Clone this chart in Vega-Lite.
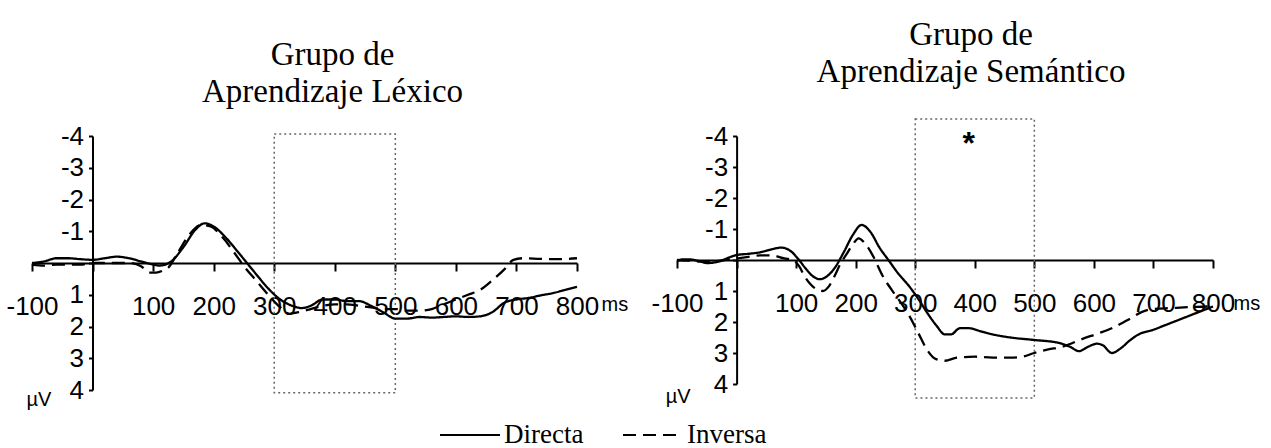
{
  "$schema": "https://vega.github.io/schema/vega-lite/v6.json",
  "padding": {"left": 5, "top": 19, "right": 0, "bottom": 0},
  "background": "white",
  "spacing": 100,
  "bounds": "flush",
  "config": {"view": {"stroke": null}},
  "datasets": {
    "left": [
      {"ms": -100, "uV": 0.0, "series": "Directa"}, {"ms": -80, "uV": -0.05, "series": "Directa"}, {"ms": -60, "uV": -0.15, "series": "Directa"}, {"ms": -40, "uV": -0.15, "series": "Directa"}, {"ms": -20, "uV": -0.12, "series": "Directa"}, {"ms": 0, "uV": -0.1, "series": "Directa"}, {"ms": 20, "uV": -0.15, "series": "Directa"}, {"ms": 40, "uV": -0.2, "series": "Directa"}, {"ms": 60, "uV": -0.15, "series": "Directa"}, {"ms": 80, "uV": -0.05, "series": "Directa"}, {"ms": 100, "uV": 0.05, "series": "Directa"}, {"ms": 110, "uV": 0.08, "series": "Directa"}, {"ms": 120, "uV": 0.05, "series": "Directa"}, {"ms": 130, "uV": -0.05, "series": "Directa"}, {"ms": 150, "uV": -0.5, "series": "Directa"}, {"ms": 170, "uV": -1.05, "series": "Directa"}, {"ms": 185, "uV": -1.25, "series": "Directa"}, {"ms": 200, "uV": -1.15, "series": "Directa"}, {"ms": 220, "uV": -0.8, "series": "Directa"}, {"ms": 240, "uV": -0.35, "series": "Directa"}, {"ms": 255, "uV": 0.0, "series": "Directa"}, {"ms": 270, "uV": 0.35, "series": "Directa"}, {"ms": 290, "uV": 0.8, "series": "Directa"}, {"ms": 310, "uV": 1.15, "series": "Directa"}, {"ms": 330, "uV": 1.35, "series": "Directa"}, {"ms": 345, "uV": 1.42, "series": "Directa"}, {"ms": 360, "uV": 1.35, "series": "Directa"}, {"ms": 380, "uV": 1.15, "series": "Directa"}, {"ms": 400, "uV": 1.15, "series": "Directa"}, {"ms": 420, "uV": 1.2, "series": "Directa"}, {"ms": 440, "uV": 1.2, "series": "Directa"}, {"ms": 460, "uV": 1.35, "series": "Directa"}, {"ms": 480, "uV": 1.55, "series": "Directa"}, {"ms": 500, "uV": 1.75, "series": "Directa"}, {"ms": 520, "uV": 1.75, "series": "Directa"}, {"ms": 540, "uV": 1.7, "series": "Directa"}, {"ms": 560, "uV": 1.72, "series": "Directa"}, {"ms": 580, "uV": 1.7, "series": "Directa"}, {"ms": 600, "uV": 1.68, "series": "Directa"}, {"ms": 620, "uV": 1.7, "series": "Directa"}, {"ms": 640, "uV": 1.68, "series": "Directa"}, {"ms": 660, "uV": 1.55, "series": "Directa"}, {"ms": 680, "uV": 1.25, "series": "Directa"}, {"ms": 700, "uV": 1.15, "series": "Directa"}, {"ms": 720, "uV": 1.1, "series": "Directa"}, {"ms": 740, "uV": 1.02, "series": "Directa"}, {"ms": 760, "uV": 0.95, "series": "Directa"}, {"ms": 780, "uV": 0.85, "series": "Directa"}, {"ms": 800, "uV": 0.75, "series": "Directa"},
      {"ms": -100, "uV": 0.05, "series": "Inversa"}, {"ms": -80, "uV": 0.08, "series": "Inversa"}, {"ms": -60, "uV": 0.05, "series": "Inversa"}, {"ms": -40, "uV": 0.05, "series": "Inversa"}, {"ms": -20, "uV": 0.05, "series": "Inversa"}, {"ms": 0, "uV": 0.0, "series": "Inversa"}, {"ms": 20, "uV": 0.0, "series": "Inversa"}, {"ms": 40, "uV": 0.0, "series": "Inversa"}, {"ms": 60, "uV": 0.0, "series": "Inversa"}, {"ms": 80, "uV": 0.1, "series": "Inversa"}, {"ms": 95, "uV": 0.3, "series": "Inversa"}, {"ms": 105, "uV": 0.3, "series": "Inversa"}, {"ms": 115, "uV": 0.25, "series": "Inversa"}, {"ms": 125, "uV": 0.15, "series": "Inversa"}, {"ms": 140, "uV": -0.3, "series": "Inversa"}, {"ms": 160, "uV": -0.9, "series": "Inversa"}, {"ms": 180, "uV": -1.2, "series": "Inversa"}, {"ms": 195, "uV": -1.15, "series": "Inversa"}, {"ms": 215, "uV": -0.8, "series": "Inversa"}, {"ms": 235, "uV": -0.3, "series": "Inversa"}, {"ms": 250, "uV": 0.1, "series": "Inversa"}, {"ms": 270, "uV": 0.55, "series": "Inversa"}, {"ms": 290, "uV": 1.0, "series": "Inversa"}, {"ms": 310, "uV": 1.4, "series": "Inversa"}, {"ms": 325, "uV": 1.6, "series": "Inversa"}, {"ms": 340, "uV": 1.55, "series": "Inversa"}, {"ms": 360, "uV": 1.45, "series": "Inversa"}, {"ms": 380, "uV": 1.35, "series": "Inversa"}, {"ms": 400, "uV": 1.3, "series": "Inversa"}, {"ms": 420, "uV": 1.3, "series": "Inversa"}, {"ms": 440, "uV": 1.35, "series": "Inversa"}, {"ms": 460, "uV": 1.4, "series": "Inversa"}, {"ms": 480, "uV": 1.45, "series": "Inversa"}, {"ms": 500, "uV": 1.45, "series": "Inversa"}, {"ms": 520, "uV": 1.5, "series": "Inversa"}, {"ms": 540, "uV": 1.5, "series": "Inversa"}, {"ms": 560, "uV": 1.45, "series": "Inversa"}, {"ms": 580, "uV": 1.3, "series": "Inversa"}, {"ms": 600, "uV": 1.15, "series": "Inversa"}, {"ms": 620, "uV": 1.0, "series": "Inversa"}, {"ms": 640, "uV": 0.85, "series": "Inversa"}, {"ms": 660, "uV": 0.55, "series": "Inversa"}, {"ms": 680, "uV": 0.2, "series": "Inversa"}, {"ms": 695, "uV": -0.1, "series": "Inversa"}, {"ms": 710, "uV": -0.15, "series": "Inversa"}, {"ms": 740, "uV": -0.13, "series": "Inversa"}, {"ms": 770, "uV": -0.12, "series": "Inversa"}, {"ms": 800, "uV": -0.15, "series": "Inversa"}
    ],
    "right": [
      {"ms": -100, "uV": 0.03, "series": "Directa"}, {"ms": -90, "uV": -0.02, "series": "Directa"}, {"ms": -80, "uV": -0.02, "series": "Directa"}, {"ms": -60, "uV": 0.05, "series": "Directa"}, {"ms": -50, "uV": 0.1, "series": "Directa"}, {"ms": -30, "uV": 0.05, "series": "Directa"}, {"ms": -10, "uV": -0.1, "series": "Directa"}, {"ms": 0, "uV": -0.16, "series": "Directa"}, {"ms": 20, "uV": -0.2, "series": "Directa"}, {"ms": 40, "uV": -0.25, "series": "Directa"}, {"ms": 60, "uV": -0.35, "series": "Directa"}, {"ms": 75, "uV": -0.4, "series": "Directa"}, {"ms": 90, "uV": -0.3, "series": "Directa"}, {"ms": 105, "uV": 0.0, "series": "Directa"}, {"ms": 115, "uV": 0.25, "series": "Directa"}, {"ms": 130, "uV": 0.55, "series": "Directa"}, {"ms": 140, "uV": 0.62, "series": "Directa"}, {"ms": 150, "uV": 0.55, "series": "Directa"}, {"ms": 165, "uV": 0.25, "series": "Directa"}, {"ms": 180, "uV": -0.25, "series": "Directa"}, {"ms": 195, "uV": -0.8, "series": "Directa"}, {"ms": 210, "uV": -1.13, "series": "Directa"}, {"ms": 225, "uV": -0.9, "series": "Directa"}, {"ms": 240, "uV": -0.4, "series": "Directa"}, {"ms": 255, "uV": 0.0, "series": "Directa"}, {"ms": 270, "uV": 0.4, "series": "Directa"}, {"ms": 290, "uV": 0.85, "series": "Directa"}, {"ms": 305, "uV": 1.25, "series": "Directa"}, {"ms": 320, "uV": 1.7, "series": "Directa"}, {"ms": 335, "uV": 2.1, "series": "Directa"}, {"ms": 350, "uV": 2.4, "series": "Directa"}, {"ms": 360, "uV": 2.4, "series": "Directa"}, {"ms": 375, "uV": 2.2, "series": "Directa"}, {"ms": 390, "uV": 2.2, "series": "Directa"}, {"ms": 410, "uV": 2.3, "series": "Directa"}, {"ms": 430, "uV": 2.4, "series": "Directa"}, {"ms": 460, "uV": 2.5, "series": "Directa"}, {"ms": 500, "uV": 2.58, "series": "Directa"}, {"ms": 540, "uV": 2.67, "series": "Directa"}, {"ms": 560, "uV": 2.8, "series": "Directa"}, {"ms": 575, "uV": 2.94, "series": "Directa"}, {"ms": 590, "uV": 2.8, "series": "Directa"}, {"ms": 605, "uV": 2.7, "series": "Directa"}, {"ms": 615, "uV": 2.75, "series": "Directa"}, {"ms": 630, "uV": 3.0, "series": "Directa"}, {"ms": 645, "uV": 2.85, "series": "Directa"}, {"ms": 660, "uV": 2.6, "series": "Directa"}, {"ms": 675, "uV": 2.4, "series": "Directa"}, {"ms": 700, "uV": 2.25, "series": "Directa"}, {"ms": 720, "uV": 2.1, "series": "Directa"}, {"ms": 740, "uV": 1.95, "series": "Directa"}, {"ms": 760, "uV": 1.8, "series": "Directa"}, {"ms": 780, "uV": 1.65, "series": "Directa"}, {"ms": 800, "uV": 1.5, "series": "Directa"},
      {"ms": -100, "uV": 0.0, "series": "Inversa"}, {"ms": -80, "uV": 0.02, "series": "Inversa"}, {"ms": -60, "uV": 0.05, "series": "Inversa"}, {"ms": -40, "uV": 0.05, "series": "Inversa"}, {"ms": -20, "uV": 0.0, "series": "Inversa"}, {"ms": 0, "uV": -0.05, "series": "Inversa"}, {"ms": 20, "uV": -0.1, "series": "Inversa"}, {"ms": 40, "uV": -0.15, "series": "Inversa"}, {"ms": 60, "uV": -0.15, "series": "Inversa"}, {"ms": 80, "uV": -0.05, "series": "Inversa"}, {"ms": 95, "uV": 0.0, "series": "Inversa"}, {"ms": 105, "uV": 0.2, "series": "Inversa"}, {"ms": 115, "uV": 0.55, "series": "Inversa"}, {"ms": 125, "uV": 0.8, "series": "Inversa"}, {"ms": 135, "uV": 0.95, "series": "Inversa"}, {"ms": 145, "uV": 1.0, "series": "Inversa"}, {"ms": 155, "uV": 0.85, "series": "Inversa"}, {"ms": 165, "uV": 0.5, "series": "Inversa"}, {"ms": 175, "uV": 0.1, "series": "Inversa"}, {"ms": 185, "uV": -0.2, "series": "Inversa"}, {"ms": 195, "uV": -0.5, "series": "Inversa"}, {"ms": 205, "uV": -0.7, "series": "Inversa"}, {"ms": 215, "uV": -0.55, "series": "Inversa"}, {"ms": 230, "uV": -0.1, "series": "Inversa"}, {"ms": 245, "uV": 0.5, "series": "Inversa"}, {"ms": 260, "uV": 0.95, "series": "Inversa"}, {"ms": 275, "uV": 1.35, "series": "Inversa"}, {"ms": 290, "uV": 1.8, "series": "Inversa"}, {"ms": 305, "uV": 2.35, "series": "Inversa"}, {"ms": 320, "uV": 2.9, "series": "Inversa"}, {"ms": 335, "uV": 3.2, "series": "Inversa"}, {"ms": 350, "uV": 3.25, "series": "Inversa"}, {"ms": 370, "uV": 3.15, "series": "Inversa"}, {"ms": 400, "uV": 3.12, "series": "Inversa"}, {"ms": 430, "uV": 3.15, "series": "Inversa"}, {"ms": 460, "uV": 3.15, "series": "Inversa"}, {"ms": 480, "uV": 3.12, "series": "Inversa"}, {"ms": 500, "uV": 3.0, "series": "Inversa"}, {"ms": 520, "uV": 2.9, "series": "Inversa"}, {"ms": 550, "uV": 2.78, "series": "Inversa"}, {"ms": 580, "uV": 2.55, "series": "Inversa"}, {"ms": 610, "uV": 2.35, "series": "Inversa"}, {"ms": 630, "uV": 2.2, "series": "Inversa"}, {"ms": 660, "uV": 1.9, "series": "Inversa"}, {"ms": 680, "uV": 1.68, "series": "Inversa"}, {"ms": 700, "uV": 1.58, "series": "Inversa"}, {"ms": 730, "uV": 1.55, "series": "Inversa"}, {"ms": 760, "uV": 1.52, "series": "Inversa"}, {"ms": 790, "uV": 1.5, "series": "Inversa"}, {"ms": 800, "uV": 1.45, "series": "Inversa"}
    ],
    "winL": [{"ms": 300, "ms2": 500, "uV": -4.06, "uV2": 4.09}],
    "winR": [{"ms": 300, "ms2": 500, "uV": -4.55, "uV2": 4.45}],
    "star": [{"ms": 390, "uV": -4.0, "label": "*"}]
  },
  "hconcat": [
    {
      "width": 545,
      "height": 254,
      "title": {"text": ["Grupo de", "Aprendizaje Léxico"], "font": "Liberation Serif", "fontSize": 33, "fontWeight": "normal", "lineHeight": 37, "color": "black", "anchor": "middle", "dx": 28, "offset": 14},
      "encoding": {
        "x": {"field": "ms", "type": "quantitative", "scale": {"domain": [-100, 800], "nice": false, "zero": false},
          "axis": {"values": [-100, 0, 100, 200, 300, 400, 500, 600, 700, 800], "labelExpr": "datum.value == 0 ? '' : '' + datum.value", "offset": -127, "grid": false, "domainColor": "black", "domainWidth": 2, "tickColor": "black", "tickWidth": 2, "tickSize": 8, "labelFont": "Liberation Sans", "labelFontSize": 26, "labelColor": "black", "labelPadding": 22, "labelFlush": false, "labelOverlap": false, "labelBound": false, "title": "ms", "titleFont": "Liberation Sans", "titleFontSize": 20, "titleFontWeight": "normal", "titleColor": "black", "titleX": 569, "titleY": 41, "titleAlign": "left", "titleBaseline": "middle", "titleAngle": 0}},
        "y": {"field": "uV", "type": "quantitative", "scale": {"domain": [-4, 4], "reverse": true, "nice": false, "zero": false},
          "axis": {"values": [-4, -3, -2, -1, 0, 1, 2, 3, 4], "labelExpr": "datum.value == 0 ? '' : '' + datum.value", "offset": -60.5, "grid": false, "domainColor": "black", "domainWidth": 2, "tickColor": "black", "tickWidth": 2, "tickSize": 4, "labelFont": "Liberation Sans", "labelFontSize": 26, "labelColor": "black", "labelPadding": 5, "labelFlush": false, "labelOverlap": false, "labelBound": false, "title": "µV", "titleFont": "Liberation Sans", "titleFontSize": 20, "titleFontWeight": "normal", "titleColor": "black", "titleAngle": 0, "titleX": -54, "titleY": 263, "titleAlign": "center", "titleBaseline": "middle"}}
      },
      "layer": [
        {"data": {"name": "winL"}, "mark": {"type": "rect", "filled": false, "stroke": "#666666", "strokeWidth": 1.5, "strokeDash": [2, 3]},
         "encoding": {"x2": {"field": "ms2"}, "y2": {"field": "uV2"}}},
        {"data": {"name": "left"}, "mark": {"type": "line", "color": "black", "strokeWidth": 2.3, "interpolate": "monotone"},
         "encoding": {"strokeDash": {"field": "series", "type": "nominal", "scale": {"domain": ["Directa", "Inversa"], "range": [[1, 0], [13, 7]]},
           "legend": {"orient": "none", "legendX": 407, "legendY": 268, "direction": "horizontal", "title": null, "symbolType": "stroke", "symbolSize": 3600, "symbolStrokeWidth": 2, "symbolStrokeColor": "black", "labelFont": "Liberation Serif", "labelFontSize": 27, "labelColor": "black", "labelOffset": 3, "columnPadding": 35}}}}
      ]
    },
    {
      "width": 536,
      "height": 248,
      "title": {"text": ["Grupo de", "Aprendizaje Semántico"], "font": "Liberation Serif", "fontSize": 33, "fontWeight": "normal", "lineHeight": 37, "color": "black", "anchor": "middle", "dx": 26, "offset": 29},
      "encoding": {
        "x": {"field": "ms", "type": "quantitative", "scale": {"domain": [-100, 800], "nice": false, "zero": false},
          "axis": {"values": [-100, 0, 100, 200, 300, 400, 500, 600, 700, 800], "labelExpr": "datum.value == 0 ? '' : '' + datum.value", "offset": -124, "grid": false, "domainColor": "black", "domainWidth": 2, "tickColor": "black", "tickWidth": 2, "tickSize": 8, "labelFont": "Liberation Sans", "labelFontSize": 26, "labelColor": "black", "labelPadding": 22, "labelFlush": false, "labelOverlap": false, "labelBound": false, "title": "ms", "titleFont": "Liberation Sans", "titleFontSize": 20, "titleFontWeight": "normal", "titleColor": "black", "titleX": 556, "titleY": 43, "titleAlign": "left", "titleBaseline": "middle", "titleAngle": 0}},
        "y": {"field": "uV", "type": "quantitative", "scale": {"domain": [-4, 4], "reverse": true, "nice": false, "zero": false},
          "axis": {"values": [-4, -3, -2, -1, 0, 1, 2, 3, 4], "labelExpr": "datum.value == 0 ? '' : '' + datum.value", "offset": -59.6, "grid": false, "domainColor": "black", "domainWidth": 2, "tickColor": "black", "tickWidth": 2, "tickSize": 4, "labelFont": "Liberation Sans", "labelFontSize": 26, "labelColor": "black", "labelPadding": 5, "labelFlush": false, "labelOverlap": false, "labelBound": false, "title": "µV", "titleFont": "Liberation Sans", "titleFontSize": 20, "titleFontWeight": "normal", "titleColor": "black", "titleAngle": 0, "titleX": -59, "titleY": 260, "titleAlign": "center", "titleBaseline": "middle"}}
      },
      "layer": [
        {"data": {"name": "winR"}, "mark": {"type": "rect", "filled": false, "stroke": "#666666", "strokeWidth": 1.5, "strokeDash": [2, 3]},
         "encoding": {"x2": {"field": "ms2"}, "y2": {"field": "uV2"}}},
        {"data": {"name": "star"}, "mark": {"type": "text", "font": "Liberation Sans", "fontSize": 32, "fontWeight": "bold", "color": "black", "baseline": "middle", "dy": 8},
         "encoding": {"text": {"field": "label"}}},
        {"data": {"name": "right"}, "mark": {"type": "line", "color": "black", "strokeWidth": 2.3, "interpolate": "monotone"},
         "encoding": {"strokeDash": {"field": "series", "type": "nominal", "scale": {"domain": ["Directa", "Inversa"], "range": [[1, 0], [13, 7]]},
           "legend": {"orient": "none", "legendX": 407, "legendY": 268, "direction": "horizontal", "title": null, "symbolType": "stroke", "symbolSize": 3600, "symbolStrokeWidth": 2, "symbolStrokeColor": "black", "labelFont": "Liberation Serif", "labelFontSize": 27, "labelColor": "black", "labelOffset": 3, "columnPadding": 35}}}}
      ]
    }
  ]
}
